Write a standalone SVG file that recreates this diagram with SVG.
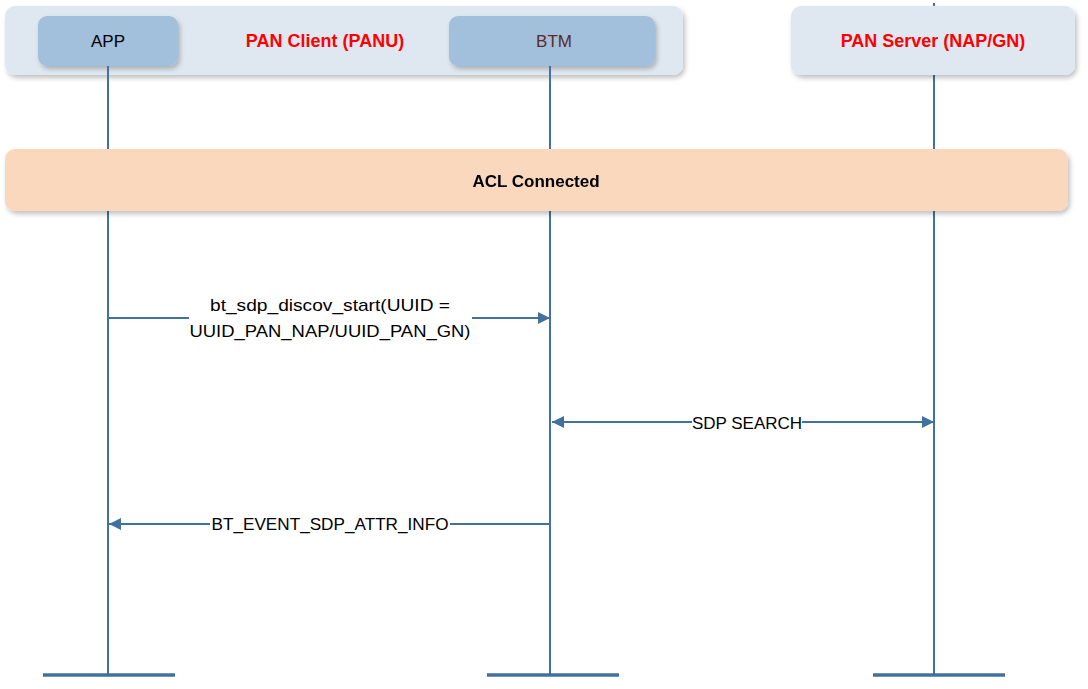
<svg xmlns="http://www.w3.org/2000/svg" width="1088" height="689" viewBox="0 0 1088 689">
<defs>
<filter id="sh" x="-5%" y="-20%" width="110%" height="150%">
<feGaussianBlur in="SourceAlpha" stdDeviation="2.5"/>
<feOffset dx="2" dy="3" result="b"/>
<feComponentTransfer><feFuncA type="linear" slope="0.25"/></feComponentTransfer>
<feMerge><feMergeNode/><feMergeNode in="SourceGraphic"/></feMerge>
</filter>
<marker id="ah" viewBox="0 0 10 10" refX="10" refY="5" markerWidth="12" markerHeight="12" markerUnits="userSpaceOnUse" orient="auto-start-reverse">
<path d="M0,0 L10,5 L0,10 z" fill="#41719c"/>
</marker>
<style>
.ll{stroke:#41719c;stroke-width:2;fill:none}
.foot{stroke:#41719c;stroke-width:3.5;fill:none}
.msg{stroke:#41719c;stroke-width:2;fill:none}
.t{font-family:"Liberation Sans",Arial,sans-serif;font-size:17px;fill:#000;text-anchor:middle}
.red{font-family:"Liberation Sans",Arial,sans-serif;font-size:18px;font-weight:bold;fill:#ff0000;text-anchor:middle}
.grp{fill:#dfe8f1}
.part{fill:#a2bfdb}
</style>
</defs>
<rect width="1088" height="689" fill="#ffffff"/>
<g id="lifelines">
<line class="ll" x1="934" y1="3" x2="934" y2="676"/>
</g>
<g id="pan-client" filter="url(#sh)">
<rect class="grp" x="5" y="6" width="678" height="69" rx="10"/>
</g>
<text class="red" x="325" y="47">PAN Client (PANU)</text>
<g id="pan-server" filter="url(#sh)">
<rect class="grp" x="791" y="6" width="284" height="69" rx="10"/>
</g>
<text class="red" x="933" y="47">PAN Server (NAP/GN)</text>
<g id="app">
<rect class="part" x="38" y="16" width="140" height="50" rx="9" filter="url(#sh)"/>
<text class="t" x="108" y="47">APP</text>
<line class="ll" x1="108" y1="66" x2="108" y2="676"/>
<line class="foot" x1="43" y1="675" x2="175" y2="675"/>
</g>
<g id="btm">
<rect class="part" x="449" y="16" width="206" height="50" rx="9" filter="url(#sh)"/>
<text class="t" x="554" y="47" style="fill:#5a2a2a">BTM</text>
<line class="ll" x1="550" y1="66" x2="550" y2="676"/>
<line class="foot" x1="487" y1="675" x2="619" y2="675"/>
</g>
<g id="server-foot">
<line class="foot" x1="873" y1="675" x2="1005" y2="675"/>
</g>
<g id="acl" filter="url(#sh)">
<rect x="5" y="149" width="1063" height="62" rx="10" fill="#f9d8bd"/>
<text class="t" x="536" y="187" style="font-weight:bold">ACL Connected</text>
</g>
<g id="connectors">
<line class="msg" x1="108" y1="318" x2="189" y2="318"/>
<line class="msg" x1="472" y1="318" x2="550" y2="318" marker-end="url(#ah)"/>
<text class="t" x="330" y="311" textLength="240" lengthAdjust="spacingAndGlyphs">bt_sdp_discov_start(UUID =</text>
<text class="t" x="330" y="337" textLength="281" lengthAdjust="spacingAndGlyphs">UUID_PAN_NAP/UUID_PAN_GN)</text>
<line class="msg" x1="552" y1="422" x2="692" y2="422" marker-start="url(#ah)"/>
<line class="msg" x1="802" y1="422" x2="934" y2="422" marker-end="url(#ah)"/>
<text class="t" x="747" y="429">SDP SEARCH</text>
<line class="msg" x1="550" y1="524" x2="450" y2="524"/>
<line class="msg" x1="210" y1="524" x2="109" y2="524" marker-end="url(#ah)"/>
<text class="t" x="330" y="530" textLength="237" lengthAdjust="spacingAndGlyphs">BT_EVENT_SDP_ATTR_INFO</text>
</g>
</svg>
